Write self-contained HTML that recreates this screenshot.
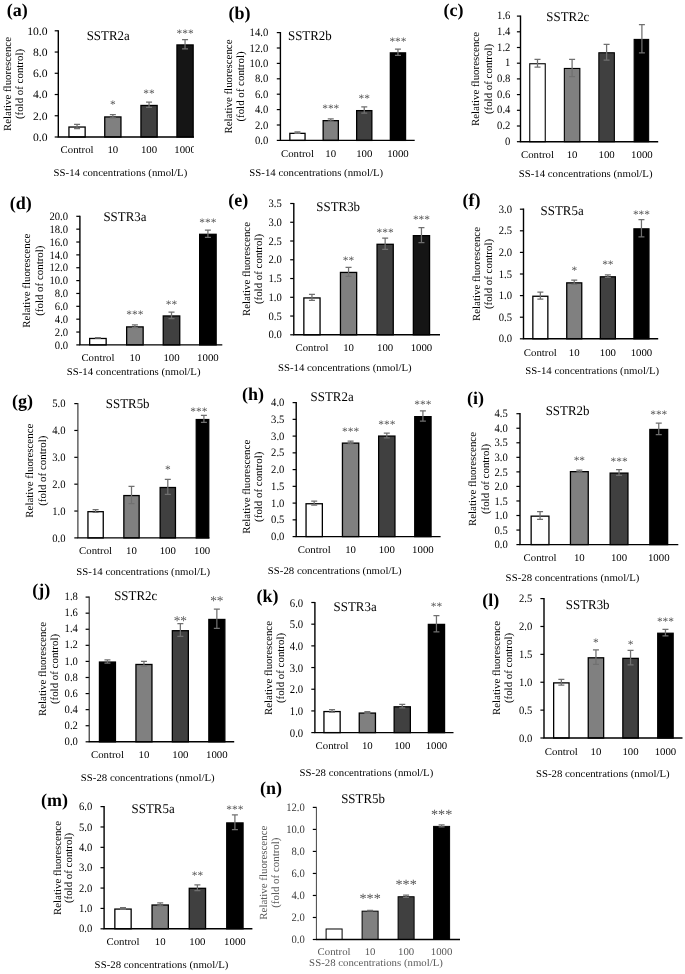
<!DOCTYPE html>
<html><head><meta charset="utf-8"><style>
html,body{margin:0;padding:0;background:#fff;}
svg{display:block;filter:blur(0.3px);}
text{font-family:"Liberation Serif",serif;text-rendering:geometricPrecision;}
</style></head><body>
<svg width="685" height="974" viewBox="0 0 685 974">
<rect width="685" height="974" fill="#fff"/>
<clipPath id="c0"><rect x="0" y="0" width="194" height="974"/></clipPath>
<g clip-path="url(#c0)"><text transform="translate(6.80,16.20) scale(1.0,1)" font-size="18" text-anchor="start" font-weight="bold" fill="#000">(a)</text><text transform="translate(86.70,39.60) scale(0.97,1)" font-size="13.3" text-anchor="start" fill="#000">SSTR2a</text><line x1="54.70" y1="137.00" x2="58.30" y2="137.00" stroke="#000" stroke-width="1.2"/><text transform="translate(47.50,140.93) scale(1.03,1)" font-size="11.3" text-anchor="end" fill="#000">0.0</text><line x1="54.70" y1="115.76" x2="58.30" y2="115.76" stroke="#000" stroke-width="1.2"/><text transform="translate(47.50,119.69) scale(1.03,1)" font-size="11.3" text-anchor="end" fill="#000">2.0</text><line x1="54.70" y1="94.52" x2="58.30" y2="94.52" stroke="#000" stroke-width="1.2"/><text transform="translate(47.50,98.45) scale(1.03,1)" font-size="11.3" text-anchor="end" fill="#000">4.0</text><line x1="54.70" y1="73.28" x2="58.30" y2="73.28" stroke="#000" stroke-width="1.2"/><text transform="translate(47.50,77.21) scale(1.03,1)" font-size="11.3" text-anchor="end" fill="#000">6.0</text><line x1="54.70" y1="52.04" x2="58.30" y2="52.04" stroke="#000" stroke-width="1.2"/><text transform="translate(47.50,55.97) scale(1.03,1)" font-size="11.3" text-anchor="end" fill="#000">8.0</text><line x1="54.70" y1="30.80" x2="58.30" y2="30.80" stroke="#000" stroke-width="1.2"/><text transform="translate(47.50,34.73) scale(1.03,1)" font-size="11.3" text-anchor="end" fill="#000">10.0</text><rect x="68.95" y="127.03" width="16.20" height="9.97" fill="#ffffff" stroke="#000" stroke-width="1.3"/><path d="M77.05 124.26V128.50M74.05 124.26H80.05M74.05 128.50H80.05" stroke="#707070" stroke-width="1.25" fill="none"/><text transform="translate(77.05,152.90) scale(1.06,1)" font-size="10.2" text-anchor="middle" fill="#000">Control</text><rect x="104.75" y="116.94" width="16.20" height="20.06" fill="#808080" stroke="#000" stroke-width="1.3"/><path d="M112.85 114.70V117.88M109.85 114.70H115.85M109.85 117.88H115.85" stroke="#707070" stroke-width="1.25" fill="none"/><text transform="translate(112.85,108.06) scale(1.0,1)" font-size="11.4" text-anchor="middle" fill="#555">*</text><text transform="translate(112.85,152.90) scale(1.06,1)" font-size="10.2" text-anchor="middle" fill="#000">10</text><rect x="140.95" y="105.47" width="16.20" height="31.53" fill="#404040" stroke="#000" stroke-width="1.3"/><path d="M149.05 102.17V107.48M146.05 102.17H152.05M146.05 107.48H152.05" stroke="#707070" stroke-width="1.25" fill="none"/><text transform="translate(149.05,96.76) scale(1.0,1)" font-size="11.4" text-anchor="middle" fill="#555">**</text><text transform="translate(149.05,152.90) scale(1.06,1)" font-size="10.2" text-anchor="middle" fill="#000">100</text><rect x="176.95" y="44.94" width="16.20" height="92.06" fill="#151515" stroke="#000" stroke-width="1.3"/><path d="M185.05 39.61V48.96M182.05 39.61H188.05M182.05 48.96H188.05" stroke="#707070" stroke-width="1.25" fill="none"/><text transform="translate(185.05,36.86) scale(1.0,1)" font-size="11.4" text-anchor="middle" fill="#555">***</text><text transform="translate(185.05,152.90) scale(1.06,1)" font-size="10.2" text-anchor="middle" fill="#000">1000</text><path d="M58.30 30.20V137.00H194.00" stroke="#000" stroke-width="1.4" fill="none"/><text transform="translate(120.40,175.50) scale(1.06,1)" font-size="10.2" text-anchor="middle" fill="#000">SS-14 concentrations (nmol/L)</text><text transform="translate(11.30,84.00) rotate(-90)" font-size="10.9" text-anchor="middle" fill="#000">Relative fluorescence</text><text transform="translate(22.60,84.00) rotate(-90)" font-size="10.9" text-anchor="middle" fill="#000">(fold of control)</text></g>
<g><text transform="translate(228.50,18.80) scale(1.0,1)" font-size="18" text-anchor="start" font-weight="bold" fill="#000">(b)</text><text transform="translate(288.00,40.30) scale(0.97,1)" font-size="13.3" text-anchor="start" fill="#000">SSTR2b</text><line x1="276.80" y1="140.40" x2="280.40" y2="140.40" stroke="#000" stroke-width="1.2"/><text transform="translate(268.20,144.03) scale(0.94,1)" font-size="11.3" text-anchor="end" fill="#000">0.0</text><line x1="276.80" y1="125.00" x2="280.40" y2="125.00" stroke="#000" stroke-width="1.2"/><text transform="translate(268.20,128.63) scale(0.94,1)" font-size="11.3" text-anchor="end" fill="#000">2.0</text><line x1="276.80" y1="109.60" x2="280.40" y2="109.60" stroke="#000" stroke-width="1.2"/><text transform="translate(268.20,113.23) scale(0.94,1)" font-size="11.3" text-anchor="end" fill="#000">4.0</text><line x1="276.80" y1="94.20" x2="280.40" y2="94.20" stroke="#000" stroke-width="1.2"/><text transform="translate(268.20,97.83) scale(0.94,1)" font-size="11.3" text-anchor="end" fill="#000">6.0</text><line x1="276.80" y1="78.80" x2="280.40" y2="78.80" stroke="#000" stroke-width="1.2"/><text transform="translate(268.20,82.43) scale(0.94,1)" font-size="11.3" text-anchor="end" fill="#000">8.0</text><line x1="276.80" y1="63.40" x2="280.40" y2="63.40" stroke="#000" stroke-width="1.2"/><text transform="translate(268.20,67.03) scale(0.94,1)" font-size="11.3" text-anchor="end" fill="#000">10.0</text><line x1="276.80" y1="48.00" x2="280.40" y2="48.00" stroke="#000" stroke-width="1.2"/><text transform="translate(268.20,51.63) scale(0.94,1)" font-size="11.3" text-anchor="end" fill="#000">12.0</text><line x1="276.80" y1="32.60" x2="280.40" y2="32.60" stroke="#000" stroke-width="1.2"/><text transform="translate(268.20,36.23) scale(0.94,1)" font-size="11.3" text-anchor="end" fill="#000">14.0</text><rect x="289.85" y="133.35" width="15.20" height="7.05" fill="#ffffff" stroke="#000" stroke-width="1.3"/><path d="M297.45 131.93V133.47M294.45 131.93H300.45M294.45 133.47H300.45" stroke="#707070" stroke-width="1.25" fill="none"/><text transform="translate(297.45,156.80) scale(1.06,1)" font-size="10.2" text-anchor="middle" fill="#000">Control</text><rect x="323.15" y="120.65" width="15.20" height="19.76" fill="#808080" stroke="#000" stroke-width="1.3"/><path d="M330.75 118.84V121.15M327.75 118.84H333.75M327.75 121.15H333.75" stroke="#707070" stroke-width="1.25" fill="none"/><text transform="translate(330.75,112.16) scale(1.0,1)" font-size="11.4" text-anchor="middle" fill="#555">***</text><text transform="translate(330.75,156.80) scale(1.06,1)" font-size="10.2" text-anchor="middle" fill="#000">10</text><rect x="356.65" y="110.64" width="15.20" height="29.77" fill="#404040" stroke="#000" stroke-width="1.3"/><path d="M364.25 106.91V113.06M361.25 106.91H367.25M361.25 113.06H367.25" stroke="#707070" stroke-width="1.25" fill="none"/><text transform="translate(364.25,101.76) scale(1.0,1)" font-size="11.4" text-anchor="middle" fill="#555">**</text><text transform="translate(364.25,156.80) scale(1.06,1)" font-size="10.2" text-anchor="middle" fill="#000">100</text><rect x="390.35" y="52.88" width="15.20" height="87.52" fill="#000" stroke="#000" stroke-width="1.3"/><path d="M397.95 49.16V55.31M394.95 49.16H400.95M394.95 55.31H400.95" stroke="#707070" stroke-width="1.25" fill="none"/><text transform="translate(397.95,44.66) scale(1.0,1)" font-size="11.4" text-anchor="middle" fill="#555">***</text><text transform="translate(397.95,156.80) scale(1.06,1)" font-size="10.2" text-anchor="middle" fill="#000">1000</text><path d="M280.40 32.00V140.40H414.70" stroke="#000" stroke-width="1.4" fill="none"/><text transform="translate(316.20,176.30) scale(1.06,1)" font-size="10.2" text-anchor="middle" fill="#000">SS-14 concentrations (nmol/L)</text><text transform="translate(232.00,86.50) rotate(-90)" font-size="10.9" text-anchor="middle" fill="#000">Relative fluorescence</text><text transform="translate(243.50,86.50) rotate(-90)" font-size="10.9" text-anchor="middle" fill="#000">(fold of control)</text></g>
<g><text transform="translate(443.50,16.20) scale(1.0,1)" font-size="18" text-anchor="start" font-weight="bold" fill="#000">(c)</text><text transform="translate(546.30,20.80) scale(0.97,1)" font-size="13.3" text-anchor="start" fill="#000">SSTR2c</text><line x1="516.90" y1="141.70" x2="520.50" y2="141.70" stroke="#000" stroke-width="1.2"/><text transform="translate(510.40,144.73) scale(0.94,1)" font-size="11.3" text-anchor="end" fill="#000">0</text><line x1="516.90" y1="126.00" x2="520.50" y2="126.00" stroke="#000" stroke-width="1.2"/><text transform="translate(510.40,129.03) scale(0.94,1)" font-size="11.3" text-anchor="end" fill="#000">0.2</text><line x1="516.90" y1="110.30" x2="520.50" y2="110.30" stroke="#000" stroke-width="1.2"/><text transform="translate(510.40,113.33) scale(0.94,1)" font-size="11.3" text-anchor="end" fill="#000">0.4</text><line x1="516.90" y1="94.60" x2="520.50" y2="94.60" stroke="#000" stroke-width="1.2"/><text transform="translate(510.40,97.63) scale(0.94,1)" font-size="11.3" text-anchor="end" fill="#000">0.6</text><line x1="516.90" y1="78.90" x2="520.50" y2="78.90" stroke="#000" stroke-width="1.2"/><text transform="translate(510.40,81.93) scale(0.94,1)" font-size="11.3" text-anchor="end" fill="#000">0.8</text><line x1="516.90" y1="63.20" x2="520.50" y2="63.20" stroke="#000" stroke-width="1.2"/><text transform="translate(510.40,66.23) scale(0.94,1)" font-size="11.3" text-anchor="end" fill="#000">1</text><line x1="516.90" y1="47.50" x2="520.50" y2="47.50" stroke="#000" stroke-width="1.2"/><text transform="translate(510.40,50.53) scale(0.94,1)" font-size="11.3" text-anchor="end" fill="#000">1.2</text><line x1="516.90" y1="31.80" x2="520.50" y2="31.80" stroke="#000" stroke-width="1.2"/><text transform="translate(510.40,34.83) scale(0.94,1)" font-size="11.3" text-anchor="end" fill="#000">1.4</text><line x1="516.90" y1="16.10" x2="520.50" y2="16.10" stroke="#000" stroke-width="1.2"/><text transform="translate(510.40,19.13) scale(0.94,1)" font-size="11.3" text-anchor="end" fill="#000">1.6</text><rect x="529.75" y="63.75" width="15.50" height="77.95" fill="#ffffff" stroke="#000" stroke-width="1.1"/><path d="M537.50 59.28V67.12M534.50 59.28H540.50M534.50 67.12H540.50" stroke="#707070" stroke-width="1.25" fill="none"/><text transform="translate(537.50,157.80) scale(1.06,1)" font-size="10.2" text-anchor="middle" fill="#000">Control</text><rect x="564.35" y="68.46" width="15.50" height="73.24" fill="#808080" stroke="#000" stroke-width="1.1"/><path d="M572.10 59.28V76.55M569.10 59.28H575.10M569.10 76.55H575.10" stroke="#707070" stroke-width="1.25" fill="none"/><text transform="translate(572.10,157.80) scale(1.06,1)" font-size="10.2" text-anchor="middle" fill="#000">10</text><rect x="598.85" y="52.76" width="15.50" height="88.94" fill="#404040" stroke="#000" stroke-width="1.1"/><path d="M606.60 44.36V60.06M603.60 44.36H609.60M603.60 60.06H609.60" stroke="#707070" stroke-width="1.25" fill="none"/><text transform="translate(606.60,157.80) scale(1.06,1)" font-size="10.2" text-anchor="middle" fill="#000">100</text><rect x="634.15" y="39.42" width="14.50" height="102.28" fill="#000" stroke="#000" stroke-width="1.1"/><path d="M641.90 24.74V52.99M638.90 24.74H644.90M638.90 52.99H644.90" stroke="#707070" stroke-width="1.25" fill="none"/><text transform="translate(641.90,157.80) scale(1.06,1)" font-size="10.2" text-anchor="middle" fill="#000">1000</text><path d="M520.50 15.50V141.70H658.20" stroke="#000" stroke-width="1.4" fill="none"/><text transform="translate(585.60,177.30) scale(1.06,1)" font-size="10.2" text-anchor="middle" fill="#000">SS-14 concentrations (nmol/L)</text><text transform="translate(479.30,79.00) rotate(-90)" font-size="10.9" text-anchor="middle" fill="#000">Relative fluorescence</text><text transform="translate(491.50,79.00) rotate(-90)" font-size="10.9" text-anchor="middle" fill="#000">(fold of control)</text></g>
<g><text transform="translate(9.80,208.60) scale(1.0,1)" font-size="18" text-anchor="start" font-weight="bold" fill="#000">(d)</text><text transform="translate(103.40,221.30) scale(0.97,1)" font-size="13.3" text-anchor="start" fill="#000">SSTR3a</text><line x1="76.30" y1="344.90" x2="79.90" y2="344.90" stroke="#000" stroke-width="1.2"/><text transform="translate(68.10,348.53) scale(0.94,1)" font-size="11.3" text-anchor="end" fill="#000">0.0</text><line x1="76.30" y1="332.04" x2="79.90" y2="332.04" stroke="#000" stroke-width="1.2"/><text transform="translate(68.10,335.67) scale(0.94,1)" font-size="11.3" text-anchor="end" fill="#000">2.0</text><line x1="76.30" y1="319.18" x2="79.90" y2="319.18" stroke="#000" stroke-width="1.2"/><text transform="translate(68.10,322.81) scale(0.94,1)" font-size="11.3" text-anchor="end" fill="#000">4.0</text><line x1="76.30" y1="306.32" x2="79.90" y2="306.32" stroke="#000" stroke-width="1.2"/><text transform="translate(68.10,309.95) scale(0.94,1)" font-size="11.3" text-anchor="end" fill="#000">6.0</text><line x1="76.30" y1="293.46" x2="79.90" y2="293.46" stroke="#000" stroke-width="1.2"/><text transform="translate(68.10,297.09) scale(0.94,1)" font-size="11.3" text-anchor="end" fill="#000">8.0</text><line x1="76.30" y1="280.60" x2="79.90" y2="280.60" stroke="#000" stroke-width="1.2"/><text transform="translate(68.10,284.23) scale(0.94,1)" font-size="11.3" text-anchor="end" fill="#000">10.0</text><line x1="76.30" y1="267.74" x2="79.90" y2="267.74" stroke="#000" stroke-width="1.2"/><text transform="translate(68.10,271.37) scale(0.94,1)" font-size="11.3" text-anchor="end" fill="#000">12.0</text><line x1="76.30" y1="254.88" x2="79.90" y2="254.88" stroke="#000" stroke-width="1.2"/><text transform="translate(68.10,258.51) scale(0.94,1)" font-size="11.3" text-anchor="end" fill="#000">14.0</text><line x1="76.30" y1="242.02" x2="79.90" y2="242.02" stroke="#000" stroke-width="1.2"/><text transform="translate(68.10,245.65) scale(0.94,1)" font-size="11.3" text-anchor="end" fill="#000">16.0</text><line x1="76.30" y1="229.16" x2="79.90" y2="229.16" stroke="#000" stroke-width="1.2"/><text transform="translate(68.10,232.79) scale(0.94,1)" font-size="11.3" text-anchor="end" fill="#000">18.0</text><line x1="76.30" y1="216.30" x2="79.90" y2="216.30" stroke="#000" stroke-width="1.2"/><text transform="translate(68.10,219.93) scale(0.94,1)" font-size="11.3" text-anchor="end" fill="#000">20.0</text><rect x="89.65" y="338.48" width="16.50" height="6.42" fill="#ffffff" stroke="#000" stroke-width="1.3"/><path d="M97.90 337.51V338.15M94.90 337.51H100.90M94.90 338.15H100.90" stroke="#707070" stroke-width="1.25" fill="none"/><text transform="translate(97.90,361.30) scale(1.06,1)" font-size="10.2" text-anchor="middle" fill="#000">Control</text><rect x="126.65" y="326.90" width="16.50" height="18.00" fill="#808080" stroke="#000" stroke-width="1.3"/><path d="M134.90 324.97V327.54M131.90 324.97H137.90M131.90 327.54H137.90" stroke="#707070" stroke-width="1.25" fill="none"/><text transform="translate(134.90,317.96) scale(1.0,1)" font-size="11.4" text-anchor="middle" fill="#555">***</text><text transform="translate(134.90,361.30) scale(1.06,1)" font-size="10.2" text-anchor="middle" fill="#000">10</text><rect x="163.25" y="315.97" width="16.50" height="28.93" fill="#404040" stroke="#000" stroke-width="1.3"/><path d="M171.50 312.11V318.54M168.50 312.11H174.50M168.50 318.54H174.50" stroke="#707070" stroke-width="1.25" fill="none"/><text transform="translate(171.50,307.96) scale(1.0,1)" font-size="11.4" text-anchor="middle" fill="#555">**</text><text transform="translate(171.50,361.30) scale(1.06,1)" font-size="10.2" text-anchor="middle" fill="#000">100</text><rect x="199.65" y="234.31" width="16.50" height="110.59" fill="#000" stroke="#000" stroke-width="1.3"/><path d="M207.90 230.00V237.33M204.90 230.00H210.90M204.90 237.33H210.90" stroke="#707070" stroke-width="1.25" fill="none"/><text transform="translate(207.90,226.36) scale(1.0,1)" font-size="11.4" text-anchor="middle" fill="#555">***</text><text transform="translate(207.90,361.30) scale(1.06,1)" font-size="10.2" text-anchor="middle" fill="#000">1000</text><path d="M79.90 215.70V344.90H222.30" stroke="#000" stroke-width="1.4" fill="none"/><text transform="translate(133.60,375.40) scale(1.06,1)" font-size="10.2" text-anchor="middle" fill="#000">SS-14 concentrations (nmol/L)</text><text transform="translate(30.40,280.70) rotate(-90)" font-size="10.9" text-anchor="middle" fill="#000">Relative fluorescence</text><text transform="translate(42.80,280.70) rotate(-90)" font-size="10.9" text-anchor="middle" fill="#000">(fold of control)</text></g>
<g><text transform="translate(228.30,205.60) scale(1.0,1)" font-size="18" text-anchor="start" font-weight="bold" fill="#000">(e)</text><text transform="translate(316.30,210.90) scale(0.97,1)" font-size="13.3" text-anchor="start" fill="#000">SSTR3b</text><line x1="290.20" y1="334.80" x2="293.80" y2="334.80" stroke="#000" stroke-width="1.2"/><text transform="translate(281.80,338.43) scale(0.94,1)" font-size="11.3" text-anchor="end" fill="#000">0.0</text><line x1="290.20" y1="316.04" x2="293.80" y2="316.04" stroke="#000" stroke-width="1.2"/><text transform="translate(281.80,319.67) scale(0.94,1)" font-size="11.3" text-anchor="end" fill="#000">0.5</text><line x1="290.20" y1="297.29" x2="293.80" y2="297.29" stroke="#000" stroke-width="1.2"/><text transform="translate(281.80,300.91) scale(0.94,1)" font-size="11.3" text-anchor="end" fill="#000">1.0</text><line x1="290.20" y1="278.53" x2="293.80" y2="278.53" stroke="#000" stroke-width="1.2"/><text transform="translate(281.80,282.16) scale(0.94,1)" font-size="11.3" text-anchor="end" fill="#000">1.5</text><line x1="290.20" y1="259.77" x2="293.80" y2="259.77" stroke="#000" stroke-width="1.2"/><text transform="translate(281.80,263.40) scale(0.94,1)" font-size="11.3" text-anchor="end" fill="#000">2.0</text><line x1="290.20" y1="241.01" x2="293.80" y2="241.01" stroke="#000" stroke-width="1.2"/><text transform="translate(281.80,244.64) scale(0.94,1)" font-size="11.3" text-anchor="end" fill="#000">2.5</text><line x1="290.20" y1="222.26" x2="293.80" y2="222.26" stroke="#000" stroke-width="1.2"/><text transform="translate(281.80,225.89) scale(0.94,1)" font-size="11.3" text-anchor="end" fill="#000">3.0</text><line x1="290.20" y1="203.50" x2="293.80" y2="203.50" stroke="#000" stroke-width="1.2"/><text transform="translate(281.80,207.13) scale(0.94,1)" font-size="11.3" text-anchor="end" fill="#000">3.5</text><rect x="303.85" y="297.94" width="16.20" height="36.86" fill="#ffffff" stroke="#000" stroke-width="1.3"/><path d="M311.95 294.28V300.29M308.95 294.28H314.95M308.95 300.29H314.95" stroke="#707070" stroke-width="1.25" fill="none"/><text transform="translate(311.95,351.30) scale(1.06,1)" font-size="10.2" text-anchor="middle" fill="#000">Control</text><rect x="340.45" y="272.43" width="16.20" height="62.37" fill="#808080" stroke="#000" stroke-width="1.3"/><path d="M348.55 267.27V276.28M345.55 267.27H351.55M345.55 276.28H351.55" stroke="#707070" stroke-width="1.25" fill="none"/><text transform="translate(348.55,264.26) scale(1.0,1)" font-size="11.4" text-anchor="middle" fill="#555">**</text><text transform="translate(348.55,351.30) scale(1.06,1)" font-size="10.2" text-anchor="middle" fill="#000">10</text><rect x="377.05" y="244.29" width="16.20" height="90.51" fill="#404040" stroke="#000" stroke-width="1.3"/><path d="M385.15 238.01V249.27M382.15 238.01H388.15M382.15 249.27H388.15" stroke="#707070" stroke-width="1.25" fill="none"/><text transform="translate(385.15,236.36) scale(1.0,1)" font-size="11.4" text-anchor="middle" fill="#555">***</text><text transform="translate(385.15,351.30) scale(1.06,1)" font-size="10.2" text-anchor="middle" fill="#000">100</text><rect x="413.35" y="235.66" width="16.20" height="99.14" fill="#151515" stroke="#000" stroke-width="1.3"/><path d="M421.45 227.51V242.51M418.45 227.51H424.45M418.45 242.51H424.45" stroke="#707070" stroke-width="1.25" fill="none"/><text transform="translate(421.45,223.36) scale(1.0,1)" font-size="11.4" text-anchor="middle" fill="#555">***</text><text transform="translate(421.45,351.30) scale(1.06,1)" font-size="10.2" text-anchor="middle" fill="#000">1000</text><path d="M293.80 202.90V334.80H440.00" stroke="#000" stroke-width="1.4" fill="none"/><text transform="translate(344.80,370.70) scale(1.06,1)" font-size="10.2" text-anchor="middle" fill="#000">SS-14 concentrations (nmol/L)</text><text transform="translate(250.30,269.00) rotate(-90)" font-size="10.9" text-anchor="middle" fill="#000">Relative fluorescence</text><text transform="translate(262.10,269.00) rotate(-90)" font-size="10.9" text-anchor="middle" fill="#000">(fold of control)</text></g>
<g><text transform="translate(462.60,205.60) scale(1.0,1)" font-size="18" text-anchor="start" font-weight="bold" fill="#000">(f)</text><text transform="translate(540.60,214.60) scale(0.97,1)" font-size="13.3" text-anchor="start" fill="#000">SSTR5a</text><line x1="519.90" y1="338.80" x2="523.50" y2="338.80" stroke="#000" stroke-width="1.2"/><text transform="translate(512.00,342.43) scale(0.94,1)" font-size="11.3" text-anchor="end" fill="#000">0.0</text><line x1="519.90" y1="317.20" x2="523.50" y2="317.20" stroke="#000" stroke-width="1.2"/><text transform="translate(512.00,320.83) scale(0.94,1)" font-size="11.3" text-anchor="end" fill="#000">0.5</text><line x1="519.90" y1="295.60" x2="523.50" y2="295.60" stroke="#000" stroke-width="1.2"/><text transform="translate(512.00,299.23) scale(0.94,1)" font-size="11.3" text-anchor="end" fill="#000">1.0</text><line x1="519.90" y1="274.00" x2="523.50" y2="274.00" stroke="#000" stroke-width="1.2"/><text transform="translate(512.00,277.63) scale(0.94,1)" font-size="11.3" text-anchor="end" fill="#000">1.5</text><line x1="519.90" y1="252.40" x2="523.50" y2="252.40" stroke="#000" stroke-width="1.2"/><text transform="translate(512.00,256.03) scale(0.94,1)" font-size="11.3" text-anchor="end" fill="#000">2.0</text><line x1="519.90" y1="230.80" x2="523.50" y2="230.80" stroke="#000" stroke-width="1.2"/><text transform="translate(512.00,234.43) scale(0.94,1)" font-size="11.3" text-anchor="end" fill="#000">2.5</text><line x1="519.90" y1="209.20" x2="523.50" y2="209.20" stroke="#000" stroke-width="1.2"/><text transform="translate(512.00,212.83) scale(0.94,1)" font-size="11.3" text-anchor="end" fill="#000">3.0</text><rect x="532.85" y="296.25" width="15.00" height="42.55" fill="#ffffff" stroke="#000" stroke-width="1.3"/><path d="M540.35 292.14V299.06M537.35 292.14H543.35M537.35 299.06H543.35" stroke="#707070" stroke-width="1.25" fill="none"/><text transform="translate(540.35,355.60) scale(1.06,1)" font-size="10.2" text-anchor="middle" fill="#000">Control</text><rect x="566.75" y="282.86" width="15.00" height="55.94" fill="#808080" stroke="#000" stroke-width="1.3"/><path d="M574.25 280.05V284.37M571.25 280.05H577.25M571.25 284.37H577.25" stroke="#707070" stroke-width="1.25" fill="none"/><text transform="translate(574.25,274.36) scale(1.0,1)" font-size="11.4" text-anchor="middle" fill="#555">*</text><text transform="translate(574.25,355.60) scale(1.06,1)" font-size="10.2" text-anchor="middle" fill="#000">10</text><rect x="600.35" y="276.81" width="15.00" height="61.99" fill="#404040" stroke="#000" stroke-width="1.3"/><path d="M607.85 274.86V277.46M604.85 274.86H610.85M604.85 277.46H610.85" stroke="#707070" stroke-width="1.25" fill="none"/><text transform="translate(607.85,267.66) scale(1.0,1)" font-size="11.4" text-anchor="middle" fill="#555">**</text><text transform="translate(607.85,355.60) scale(1.06,1)" font-size="10.2" text-anchor="middle" fill="#000">100</text><rect x="633.95" y="228.86" width="15.00" height="109.94" fill="#000" stroke="#000" stroke-width="1.3"/><path d="M641.45 219.57V236.85M638.45 219.57H644.45M638.45 236.85H644.45" stroke="#707070" stroke-width="1.25" fill="none"/><text transform="translate(641.45,217.96) scale(1.0,1)" font-size="11.4" text-anchor="middle" fill="#555">***</text><text transform="translate(641.45,355.60) scale(1.06,1)" font-size="10.2" text-anchor="middle" fill="#000">1000</text><path d="M523.50 208.60V338.80H658.20" stroke="#000" stroke-width="1.4" fill="none"/><text transform="translate(592.20,374.10) scale(1.06,1)" font-size="10.2" text-anchor="middle" fill="#000">SS-14 concentrations (nmol/L)</text><text transform="translate(480.30,274.00) rotate(-90)" font-size="10.9" text-anchor="middle" fill="#000">Relative fluorescence</text><text transform="translate(492.10,274.00) rotate(-90)" font-size="10.9" text-anchor="middle" fill="#000">(fold of control)</text></g>
<g><text transform="translate(12.00,407.00) scale(1.0,1)" font-size="18" text-anchor="start" font-weight="bold" fill="#000">(g)</text><text transform="translate(105.80,407.60) scale(0.97,1)" font-size="13.3" text-anchor="start" fill="#000">SSTR5b</text><line x1="74.30" y1="537.90" x2="77.90" y2="537.90" stroke="#000" stroke-width="1.2"/><text transform="translate(65.50,541.53) scale(0.94,1)" font-size="11.3" text-anchor="end" fill="#000">0.0</text><line x1="74.30" y1="511.04" x2="77.90" y2="511.04" stroke="#000" stroke-width="1.2"/><text transform="translate(65.50,514.67) scale(0.94,1)" font-size="11.3" text-anchor="end" fill="#000">1.0</text><line x1="74.30" y1="484.18" x2="77.90" y2="484.18" stroke="#000" stroke-width="1.2"/><text transform="translate(65.50,487.81) scale(0.94,1)" font-size="11.3" text-anchor="end" fill="#000">2.0</text><line x1="74.30" y1="457.32" x2="77.90" y2="457.32" stroke="#000" stroke-width="1.2"/><text transform="translate(65.50,460.95) scale(0.94,1)" font-size="11.3" text-anchor="end" fill="#000">3.0</text><line x1="74.30" y1="430.46" x2="77.90" y2="430.46" stroke="#000" stroke-width="1.2"/><text transform="translate(65.50,434.09) scale(0.94,1)" font-size="11.3" text-anchor="end" fill="#000">4.0</text><line x1="74.30" y1="403.60" x2="77.90" y2="403.60" stroke="#000" stroke-width="1.2"/><text transform="translate(65.50,407.23) scale(0.94,1)" font-size="11.3" text-anchor="end" fill="#000">5.0</text><rect x="87.95" y="511.69" width="15.30" height="26.21" fill="#ffffff" stroke="#000" stroke-width="1.3"/><path d="M95.60 509.70V512.38M92.60 509.70H98.60M92.60 512.38H98.60" stroke="#707070" stroke-width="1.25" fill="none"/><text transform="translate(95.60,554.00) scale(1.06,1)" font-size="10.2" text-anchor="middle" fill="#000">Control</text><rect x="123.85" y="495.57" width="15.30" height="42.33" fill="#808080" stroke="#000" stroke-width="1.3"/><path d="M131.50 486.33V503.52M128.50 486.33H134.50M128.50 503.52H134.50" stroke="#707070" stroke-width="1.25" fill="none"/><text transform="translate(131.50,554.00) scale(1.06,1)" font-size="10.2" text-anchor="middle" fill="#000">10</text><rect x="160.15" y="487.52" width="15.30" height="50.38" fill="#404040" stroke="#000" stroke-width="1.3"/><path d="M167.80 479.35V494.39M164.80 479.35H170.80M164.80 494.39H170.80" stroke="#707070" stroke-width="1.25" fill="none"/><text transform="translate(167.80,473.36) scale(1.0,1)" font-size="11.4" text-anchor="middle" fill="#555">*</text><text transform="translate(167.80,554.00) scale(1.06,1)" font-size="10.2" text-anchor="middle" fill="#000">100</text><rect x="196.25" y="419.56" width="12.50" height="118.34" fill="#000" stroke="#000" stroke-width="1.3"/><path d="M203.90 415.42V422.40M200.90 415.42H206.90M200.90 422.40H206.90" stroke="#707070" stroke-width="1.25" fill="none"/><text transform="translate(198.80,414.96) scale(1.0,1)" font-size="11.4" text-anchor="middle" fill="#555">***</text><text transform="translate(202.10,554.00) scale(1.06,1)" font-size="10.2" text-anchor="middle" fill="#000">100</text><path d="M77.90 403.10V537.90" stroke="#2a2a2a" stroke-width="1.1" fill="none"/><path d="M77.40 537.90H209.40" stroke="#000" stroke-width="1.4" fill="none"/><text transform="translate(143.20,575.30) scale(1.06,1)" font-size="10.2" text-anchor="middle" fill="#000">SS-14 concentrations (nmol/L)</text><text transform="translate(33.00,470.70) rotate(-90)" font-size="10.9" text-anchor="middle" fill="#000">Relative fluorescence</text><text transform="translate(45.50,470.70) rotate(-90)" font-size="10.9" text-anchor="middle" fill="#000">(fold of control)</text></g>
<g><text transform="translate(242.00,400.00) scale(1.0,1)" font-size="18" text-anchor="start" font-weight="bold" fill="#000">(h)</text><text transform="translate(310.60,400.90) scale(0.97,1)" font-size="13.3" text-anchor="start" fill="#000">SSTR2a</text><line x1="292.60" y1="536.60" x2="296.20" y2="536.60" stroke="#000" stroke-width="1.2"/><text transform="translate(284.40,540.23) scale(0.94,1)" font-size="11.3" text-anchor="end" fill="#000">0.0</text><line x1="292.60" y1="519.85" x2="296.20" y2="519.85" stroke="#000" stroke-width="1.2"/><text transform="translate(284.40,523.48) scale(0.94,1)" font-size="11.3" text-anchor="end" fill="#000">0.5</text><line x1="292.60" y1="503.10" x2="296.20" y2="503.10" stroke="#000" stroke-width="1.2"/><text transform="translate(284.40,506.73) scale(0.94,1)" font-size="11.3" text-anchor="end" fill="#000">1.0</text><line x1="292.60" y1="486.35" x2="296.20" y2="486.35" stroke="#000" stroke-width="1.2"/><text transform="translate(284.40,489.98) scale(0.94,1)" font-size="11.3" text-anchor="end" fill="#000">1.5</text><line x1="292.60" y1="469.60" x2="296.20" y2="469.60" stroke="#000" stroke-width="1.2"/><text transform="translate(284.40,473.23) scale(0.94,1)" font-size="11.3" text-anchor="end" fill="#000">2.0</text><line x1="292.60" y1="452.85" x2="296.20" y2="452.85" stroke="#000" stroke-width="1.2"/><text transform="translate(284.40,456.48) scale(0.94,1)" font-size="11.3" text-anchor="end" fill="#000">2.5</text><line x1="292.60" y1="436.10" x2="296.20" y2="436.10" stroke="#000" stroke-width="1.2"/><text transform="translate(284.40,439.73) scale(0.94,1)" font-size="11.3" text-anchor="end" fill="#000">3.0</text><line x1="292.60" y1="419.35" x2="296.20" y2="419.35" stroke="#000" stroke-width="1.2"/><text transform="translate(284.40,422.98) scale(0.94,1)" font-size="11.3" text-anchor="end" fill="#000">3.5</text><line x1="292.60" y1="402.60" x2="296.20" y2="402.60" stroke="#000" stroke-width="1.2"/><text transform="translate(284.40,406.23) scale(0.94,1)" font-size="11.3" text-anchor="end" fill="#000">4.0</text><rect x="306.05" y="503.75" width="16.30" height="32.85" fill="#ffffff" stroke="#000" stroke-width="1.3"/><path d="M314.20 501.09V505.11M311.20 501.09H317.20M311.20 505.11H317.20" stroke="#707070" stroke-width="1.25" fill="none"/><text transform="translate(314.20,553.00) scale(1.06,1)" font-size="10.2" text-anchor="middle" fill="#000">Control</text><rect x="342.45" y="443.12" width="16.30" height="93.48" fill="#808080" stroke="#000" stroke-width="1.3"/><path d="M350.60 441.12V443.81M347.60 441.12H353.60M347.60 443.81H353.60" stroke="#707070" stroke-width="1.25" fill="none"/><text transform="translate(350.60,434.76) scale(1.0,1)" font-size="11.4" text-anchor="middle" fill="#555">***</text><text transform="translate(350.60,553.00) scale(1.06,1)" font-size="10.2" text-anchor="middle" fill="#000">10</text><rect x="378.65" y="436.08" width="16.30" height="100.52" fill="#404040" stroke="#000" stroke-width="1.3"/><path d="M386.80 433.09V437.78M383.80 433.09H389.80M383.80 437.78H389.80" stroke="#707070" stroke-width="1.25" fill="none"/><text transform="translate(386.80,428.06) scale(1.0,1)" font-size="11.4" text-anchor="middle" fill="#555">***</text><text transform="translate(386.80,553.00) scale(1.06,1)" font-size="10.2" text-anchor="middle" fill="#000">100</text><rect x="414.75" y="416.65" width="16.30" height="119.95" fill="#000" stroke="#000" stroke-width="1.3"/><path d="M422.90 410.98V421.03M419.90 410.98H425.90M419.90 421.03H425.90" stroke="#707070" stroke-width="1.25" fill="none"/><text transform="translate(422.90,407.96) scale(1.0,1)" font-size="11.4" text-anchor="middle" fill="#555">***</text><text transform="translate(422.90,553.00) scale(1.06,1)" font-size="10.2" text-anchor="middle" fill="#000">1000</text><path d="M296.20 402.00V536.60H440.60" stroke="#000" stroke-width="1.4" fill="none"/><text transform="translate(334.70,574.00) scale(1.06,1)" font-size="10.2" text-anchor="middle" fill="#000">SS-28 concentrations (nmol/L)</text><text transform="translate(250.30,486.80) rotate(-90)" font-size="10.9" text-anchor="middle" fill="#000">Relative fluorescence</text><text transform="translate(262.10,486.80) rotate(-90)" font-size="10.9" text-anchor="middle" fill="#000">(fold of control)</text></g>
<g><text transform="translate(467.00,403.60) scale(1.0,1)" font-size="18" text-anchor="start" font-weight="bold" fill="#000">(i)</text><text transform="translate(545.70,415.30) scale(0.97,1)" font-size="13.3" text-anchor="start" fill="#000">SSTR2b</text><line x1="516.40" y1="544.60" x2="520.00" y2="544.60" stroke="#000" stroke-width="1.2"/><text transform="translate(507.70,548.23) scale(0.94,1)" font-size="11.3" text-anchor="end" fill="#000">0.0</text><line x1="516.40" y1="530.06" x2="520.00" y2="530.06" stroke="#000" stroke-width="1.2"/><text transform="translate(507.70,533.68) scale(0.94,1)" font-size="11.3" text-anchor="end" fill="#000">0.5</text><line x1="516.40" y1="515.51" x2="520.00" y2="515.51" stroke="#000" stroke-width="1.2"/><text transform="translate(507.70,519.14) scale(0.94,1)" font-size="11.3" text-anchor="end" fill="#000">1.0</text><line x1="516.40" y1="500.97" x2="520.00" y2="500.97" stroke="#000" stroke-width="1.2"/><text transform="translate(507.70,504.60) scale(0.94,1)" font-size="11.3" text-anchor="end" fill="#000">1.5</text><line x1="516.40" y1="486.42" x2="520.00" y2="486.42" stroke="#000" stroke-width="1.2"/><text transform="translate(507.70,490.05) scale(0.94,1)" font-size="11.3" text-anchor="end" fill="#000">2.0</text><line x1="516.40" y1="471.88" x2="520.00" y2="471.88" stroke="#000" stroke-width="1.2"/><text transform="translate(507.70,475.51) scale(0.94,1)" font-size="11.3" text-anchor="end" fill="#000">2.5</text><line x1="516.40" y1="457.33" x2="520.00" y2="457.33" stroke="#000" stroke-width="1.2"/><text transform="translate(507.70,460.96) scale(0.94,1)" font-size="11.3" text-anchor="end" fill="#000">3.0</text><line x1="516.40" y1="442.79" x2="520.00" y2="442.79" stroke="#000" stroke-width="1.2"/><text transform="translate(507.70,446.42) scale(0.94,1)" font-size="11.3" text-anchor="end" fill="#000">3.5</text><line x1="516.40" y1="428.24" x2="520.00" y2="428.24" stroke="#000" stroke-width="1.2"/><text transform="translate(507.70,431.87) scale(0.94,1)" font-size="11.3" text-anchor="end" fill="#000">4.0</text><line x1="516.40" y1="413.70" x2="520.00" y2="413.70" stroke="#000" stroke-width="1.2"/><text transform="translate(507.70,417.33) scale(0.94,1)" font-size="11.3" text-anchor="end" fill="#000">4.5</text><rect x="531.15" y="516.16" width="17.80" height="28.44" fill="#ffffff" stroke="#000" stroke-width="1.3"/><path d="M540.05 511.73V519.29M537.05 511.73H543.05M537.05 519.29H543.05" stroke="#707070" stroke-width="1.25" fill="none"/><text transform="translate(540.05,561.40) scale(1.06,1)" font-size="10.2" text-anchor="middle" fill="#000">Control</text><rect x="570.45" y="471.66" width="17.80" height="72.94" fill="#808080" stroke="#000" stroke-width="1.3"/><path d="M579.35 470.13V471.88M576.35 470.13H582.35M576.35 471.88H582.35" stroke="#707070" stroke-width="1.25" fill="none"/><text transform="translate(579.35,463.66) scale(1.0,1)" font-size="11.4" text-anchor="middle" fill="#555">**</text><text transform="translate(579.35,561.40) scale(1.06,1)" font-size="10.2" text-anchor="middle" fill="#000">10</text><rect x="610.15" y="473.11" width="17.80" height="71.49" fill="#404040" stroke="#000" stroke-width="1.3"/><path d="M619.05 469.55V475.37M616.05 469.55H622.05M616.05 475.37H622.05" stroke="#707070" stroke-width="1.25" fill="none"/><text transform="translate(619.05,465.36) scale(1.0,1)" font-size="11.4" text-anchor="middle" fill="#555">***</text><text transform="translate(619.05,561.40) scale(1.06,1)" font-size="10.2" text-anchor="middle" fill="#000">100</text><rect x="649.85" y="429.48" width="17.80" height="115.12" fill="#000" stroke="#000" stroke-width="1.3"/><path d="M658.75 423.01V434.64M655.75 423.01H661.75M655.75 434.64H661.75" stroke="#707070" stroke-width="1.25" fill="none"/><text transform="translate(658.75,418.36) scale(1.0,1)" font-size="11.4" text-anchor="middle" fill="#555">***</text><text transform="translate(658.75,561.40) scale(1.06,1)" font-size="10.2" text-anchor="middle" fill="#000">1000</text><path d="M520.00 413.10V544.60H678.30" stroke="#000" stroke-width="1.4" fill="none"/><text transform="translate(572.50,580.80) scale(1.06,1)" font-size="10.2" text-anchor="middle" fill="#000">SS-28 concentrations (nmol/L)</text><text transform="translate(476.00,479.00) rotate(-90)" font-size="10.9" text-anchor="middle" fill="#000">Relative fluorescence</text><text transform="translate(488.70,479.00) rotate(-90)" font-size="10.9" text-anchor="middle" fill="#000">(fold of control)</text></g>
<g><text transform="translate(32.20,596.00) scale(1.0,1)" font-size="18" text-anchor="start" font-weight="bold" fill="#000">(j)</text><text transform="translate(114.20,599.80) scale(0.97,1)" font-size="13.3" text-anchor="start" fill="#000">SSTR2c</text><line x1="85.60" y1="741.80" x2="89.20" y2="741.80" stroke="#000" stroke-width="1.2"/><text transform="translate(77.90,744.93) scale(0.94,1)" font-size="11.3" text-anchor="end" fill="#000">0.0</text><line x1="85.60" y1="725.72" x2="89.20" y2="725.72" stroke="#000" stroke-width="1.2"/><text transform="translate(77.90,728.85) scale(0.94,1)" font-size="11.3" text-anchor="end" fill="#000">0.2</text><line x1="85.60" y1="709.64" x2="89.20" y2="709.64" stroke="#000" stroke-width="1.2"/><text transform="translate(77.90,712.77) scale(0.94,1)" font-size="11.3" text-anchor="end" fill="#000">0.4</text><line x1="85.60" y1="693.57" x2="89.20" y2="693.57" stroke="#000" stroke-width="1.2"/><text transform="translate(77.90,696.70) scale(0.94,1)" font-size="11.3" text-anchor="end" fill="#000">0.6</text><line x1="85.60" y1="677.49" x2="89.20" y2="677.49" stroke="#000" stroke-width="1.2"/><text transform="translate(77.90,680.62) scale(0.94,1)" font-size="11.3" text-anchor="end" fill="#000">0.8</text><line x1="85.60" y1="661.41" x2="89.20" y2="661.41" stroke="#000" stroke-width="1.2"/><text transform="translate(77.90,664.54) scale(0.94,1)" font-size="11.3" text-anchor="end" fill="#000">1.0</text><line x1="85.60" y1="645.33" x2="89.20" y2="645.33" stroke="#000" stroke-width="1.2"/><text transform="translate(77.90,648.46) scale(0.94,1)" font-size="11.3" text-anchor="end" fill="#000">1.2</text><line x1="85.60" y1="629.26" x2="89.20" y2="629.26" stroke="#000" stroke-width="1.2"/><text transform="translate(77.90,632.38) scale(0.94,1)" font-size="11.3" text-anchor="end" fill="#000">1.4</text><line x1="85.60" y1="613.18" x2="89.20" y2="613.18" stroke="#000" stroke-width="1.2"/><text transform="translate(77.90,616.31) scale(0.94,1)" font-size="11.3" text-anchor="end" fill="#000">1.6</text><line x1="85.60" y1="597.10" x2="89.20" y2="597.10" stroke="#000" stroke-width="1.2"/><text transform="translate(77.90,600.23) scale(0.94,1)" font-size="11.3" text-anchor="end" fill="#000">1.8</text><rect x="99.45" y="662.06" width="16.00" height="79.74" fill="#000" stroke="#000" stroke-width="1.3"/><path d="M107.45 659.80V663.02M104.45 659.80H110.45M104.45 663.02H110.45" stroke="#707070" stroke-width="1.25" fill="none"/><text transform="translate(107.45,758.20) scale(1.06,1)" font-size="10.2" text-anchor="middle" fill="#000">Control</text><rect x="135.95" y="664.47" width="16.00" height="77.33" fill="#808080" stroke="#000" stroke-width="1.3"/><path d="M143.95 661.41V666.23M140.95 661.41H146.95M140.95 666.23H146.95" stroke="#707070" stroke-width="1.25" fill="none"/><text transform="translate(143.95,758.20) scale(1.06,1)" font-size="10.2" text-anchor="middle" fill="#000">10</text><rect x="172.35" y="630.71" width="16.00" height="111.09" fill="#404040" stroke="#000" stroke-width="1.3"/><path d="M180.35 623.63V636.49M177.35 623.63H183.35M177.35 636.49H183.35" stroke="#707070" stroke-width="1.25" fill="none"/><text transform="translate(180.35,624.50) scale(1.0,1)" font-size="13.4" text-anchor="middle" fill="#555">**</text><text transform="translate(180.35,758.20) scale(1.06,1)" font-size="10.2" text-anchor="middle" fill="#000">100</text><rect x="208.85" y="619.46" width="16.00" height="122.34" fill="#000" stroke="#000" stroke-width="1.3"/><path d="M216.85 609.16V628.45M213.85 609.16H219.85M213.85 628.45H219.85" stroke="#707070" stroke-width="1.25" fill="none"/><text transform="translate(216.85,604.80) scale(1.0,1)" font-size="13.4" text-anchor="middle" fill="#555">**</text><text transform="translate(216.85,758.20) scale(1.06,1)" font-size="10.2" text-anchor="middle" fill="#000">1000</text><path d="M89.20 596.60V741.80" stroke="#222" stroke-width="1.1" fill="none"/><path d="M88.70 741.80H234.20" stroke="#000" stroke-width="1.4" fill="none"/><text transform="translate(147.70,781.00) scale(1.06,1)" font-size="10.2" text-anchor="middle" fill="#000">SS-28 concentrations (nmol/L)</text><text transform="translate(46.00,669.00) rotate(-90)" font-size="10.9" text-anchor="middle" fill="#000">Relative fluorescence</text><text transform="translate(58.00,669.00) rotate(-90)" font-size="10.9" text-anchor="middle" fill="#000">(fold of control)</text></g>
<g><text transform="translate(256.50,601.50) scale(1.0,1)" font-size="18" text-anchor="start" font-weight="bold" fill="#000">(k)</text><text transform="translate(333.60,611.20) scale(0.97,1)" font-size="13.3" text-anchor="start" fill="#000">SSTR3a</text><line x1="311.30" y1="732.60" x2="314.90" y2="732.60" stroke="#000" stroke-width="1.2"/><text transform="translate(303.20,736.79) scale(0.91,1)" font-size="11.8" text-anchor="end" fill="#000">0.0</text><line x1="311.30" y1="710.92" x2="314.90" y2="710.92" stroke="#000" stroke-width="1.2"/><text transform="translate(303.20,715.11) scale(0.91,1)" font-size="11.8" text-anchor="end" fill="#000">1.0</text><line x1="311.30" y1="689.23" x2="314.90" y2="689.23" stroke="#000" stroke-width="1.2"/><text transform="translate(303.20,693.43) scale(0.91,1)" font-size="11.8" text-anchor="end" fill="#000">2.0</text><line x1="311.30" y1="667.55" x2="314.90" y2="667.55" stroke="#000" stroke-width="1.2"/><text transform="translate(303.20,671.74) scale(0.91,1)" font-size="11.8" text-anchor="end" fill="#000">3.0</text><line x1="311.30" y1="645.87" x2="314.90" y2="645.87" stroke="#000" stroke-width="1.2"/><text transform="translate(303.20,650.06) scale(0.91,1)" font-size="11.8" text-anchor="end" fill="#000">4.0</text><line x1="311.30" y1="624.18" x2="314.90" y2="624.18" stroke="#000" stroke-width="1.2"/><text transform="translate(303.20,628.38) scale(0.91,1)" font-size="11.8" text-anchor="end" fill="#000">5.0</text><line x1="311.30" y1="602.50" x2="314.90" y2="602.50" stroke="#000" stroke-width="1.2"/><text transform="translate(303.20,606.69) scale(0.91,1)" font-size="11.8" text-anchor="end" fill="#000">6.0</text><rect x="323.95" y="711.57" width="16.20" height="21.03" fill="#ffffff" stroke="#000" stroke-width="1.3"/><path d="M332.05 709.62V712.22M329.05 709.62H335.05M329.05 712.22H335.05" stroke="#707070" stroke-width="1.25" fill="none"/><text transform="translate(332.05,748.60) scale(1.06,1)" font-size="10.2" text-anchor="middle" fill="#000">Control</text><rect x="359.25" y="713.08" width="16.20" height="19.52" fill="#808080" stroke="#000" stroke-width="1.3"/><path d="M367.35 711.57V713.30M364.35 711.57H370.35M364.35 713.30H370.35" stroke="#707070" stroke-width="1.25" fill="none"/><text transform="translate(367.35,748.60) scale(1.06,1)" font-size="10.2" text-anchor="middle" fill="#000">10</text><rect x="394.15" y="706.80" width="16.20" height="25.80" fill="#404040" stroke="#000" stroke-width="1.3"/><path d="M402.25 704.41V707.88M399.25 704.41H405.25M399.25 707.88H405.25" stroke="#707070" stroke-width="1.25" fill="none"/><text transform="translate(402.25,748.60) scale(1.06,1)" font-size="10.2" text-anchor="middle" fill="#000">100</text><rect x="428.35" y="624.40" width="16.20" height="108.20" fill="#000" stroke="#000" stroke-width="1.3"/><path d="M436.45 615.73V631.77M433.45 615.73H439.45M433.45 631.77H439.45" stroke="#707070" stroke-width="1.25" fill="none"/><text transform="translate(436.45,610.16) scale(1.0,1)" font-size="11.4" text-anchor="middle" fill="#555">**</text><text transform="translate(436.45,748.60) scale(1.06,1)" font-size="10.2" text-anchor="middle" fill="#000">1000</text><path d="M314.90 601.90V732.60H453.50" stroke="#000" stroke-width="1.4" fill="none"/><text transform="translate(366.40,775.60) scale(1.06,1)" font-size="10.2" text-anchor="middle" fill="#000">SS-28 concentrations (nmol/L)</text><text transform="translate(271.80,668.00) rotate(-90)" font-size="10.9" text-anchor="middle" fill="#000">Relative fluorescence</text><text transform="translate(284.00,668.00) rotate(-90)" font-size="10.9" text-anchor="middle" fill="#000">(fold of control)</text></g>
<g><text transform="translate(482.20,605.60) scale(1.0,1)" font-size="18" text-anchor="start" font-weight="bold" fill="#000">(l)</text><text transform="translate(565.80,608.70) scale(0.97,1)" font-size="13.3" text-anchor="start" fill="#000">SSTR3b</text><line x1="540.40" y1="738.00" x2="544.00" y2="738.00" stroke="#000" stroke-width="1.2"/><text transform="translate(532.20,741.63) scale(0.94,1)" font-size="11.3" text-anchor="end" fill="#000">0.0</text><line x1="540.40" y1="710.12" x2="544.00" y2="710.12" stroke="#000" stroke-width="1.2"/><text transform="translate(532.20,713.75) scale(0.94,1)" font-size="11.3" text-anchor="end" fill="#000">0.5</text><line x1="540.40" y1="682.24" x2="544.00" y2="682.24" stroke="#000" stroke-width="1.2"/><text transform="translate(532.20,685.87) scale(0.94,1)" font-size="11.3" text-anchor="end" fill="#000">1.0</text><line x1="540.40" y1="654.36" x2="544.00" y2="654.36" stroke="#000" stroke-width="1.2"/><text transform="translate(532.20,657.99) scale(0.94,1)" font-size="11.3" text-anchor="end" fill="#000">1.5</text><line x1="540.40" y1="626.48" x2="544.00" y2="626.48" stroke="#000" stroke-width="1.2"/><text transform="translate(532.20,630.11) scale(0.94,1)" font-size="11.3" text-anchor="end" fill="#000">2.0</text><line x1="540.40" y1="598.60" x2="544.00" y2="598.60" stroke="#000" stroke-width="1.2"/><text transform="translate(532.20,602.23) scale(0.94,1)" font-size="11.3" text-anchor="end" fill="#000">2.5</text><rect x="553.65" y="682.89" width="15.40" height="55.11" fill="#ffffff" stroke="#000" stroke-width="1.3"/><path d="M561.35 679.45V685.03M558.35 679.45H564.35M558.35 685.03H564.35" stroke="#707070" stroke-width="1.25" fill="none"/><text transform="translate(561.35,754.80) scale(1.06,1)" font-size="10.2" text-anchor="middle" fill="#000">Control</text><rect x="588.25" y="657.80" width="15.40" height="80.20" fill="#808080" stroke="#000" stroke-width="1.3"/><path d="M595.95 649.90V664.40M592.95 649.90H598.95M592.95 664.40H598.95" stroke="#707070" stroke-width="1.25" fill="none"/><text transform="translate(595.95,645.96) scale(1.0,1)" font-size="11.4" text-anchor="middle" fill="#555">*</text><text transform="translate(595.95,754.80) scale(1.06,1)" font-size="10.2" text-anchor="middle" fill="#000">10</text><rect x="622.85" y="658.36" width="15.40" height="79.64" fill="#404040" stroke="#000" stroke-width="1.3"/><path d="M630.55 650.46V664.95M627.55 650.46H633.55M627.55 664.95H633.55" stroke="#707070" stroke-width="1.25" fill="none"/><text transform="translate(630.55,647.66) scale(1.0,1)" font-size="11.4" text-anchor="middle" fill="#555">*</text><text transform="translate(630.55,754.80) scale(1.06,1)" font-size="10.2" text-anchor="middle" fill="#000">100</text><rect x="657.75" y="633.26" width="15.40" height="104.74" fill="#000" stroke="#000" stroke-width="1.3"/><path d="M665.45 629.27V635.96M662.45 629.27H668.45M662.45 635.96H668.45" stroke="#707070" stroke-width="1.25" fill="none"/><text transform="translate(665.45,624.76) scale(1.0,1)" font-size="11.4" text-anchor="middle" fill="#555">***</text><text transform="translate(665.45,754.80) scale(1.06,1)" font-size="10.2" text-anchor="middle" fill="#000">1000</text><path d="M544.00 598.00V738.00H682.50" stroke="#000" stroke-width="1.4" fill="none"/><text transform="translate(602.80,777.30) scale(1.06,1)" font-size="10.2" text-anchor="middle" fill="#000">SS-28 concentrations (nmol/L)</text><text transform="translate(499.80,668.00) rotate(-90)" font-size="10.9" text-anchor="middle" fill="#000">Relative fluorescence</text><text transform="translate(511.50,668.00) rotate(-90)" font-size="10.9" text-anchor="middle" fill="#000">(fold of control)</text></g>
<g><text transform="translate(40.90,806.30) scale(1.0,1)" font-size="18" text-anchor="start" font-weight="bold" fill="#000">(m)</text><text transform="translate(131.60,812.80) scale(0.97,1)" font-size="13.3" text-anchor="start" fill="#000">SSTR5a</text><line x1="100.50" y1="928.80" x2="104.10" y2="928.80" stroke="#000" stroke-width="1.2"/><text transform="translate(92.30,932.43) scale(0.94,1)" font-size="11.3" text-anchor="end" fill="#000">0.0</text><line x1="100.50" y1="908.43" x2="104.10" y2="908.43" stroke="#000" stroke-width="1.2"/><text transform="translate(92.30,912.06) scale(0.94,1)" font-size="11.3" text-anchor="end" fill="#000">1.0</text><line x1="100.50" y1="888.07" x2="104.10" y2="888.07" stroke="#000" stroke-width="1.2"/><text transform="translate(92.30,891.70) scale(0.94,1)" font-size="11.3" text-anchor="end" fill="#000">2.0</text><line x1="100.50" y1="867.70" x2="104.10" y2="867.70" stroke="#000" stroke-width="1.2"/><text transform="translate(92.30,871.33) scale(0.94,1)" font-size="11.3" text-anchor="end" fill="#000">3.0</text><line x1="100.50" y1="847.33" x2="104.10" y2="847.33" stroke="#000" stroke-width="1.2"/><text transform="translate(92.30,850.96) scale(0.94,1)" font-size="11.3" text-anchor="end" fill="#000">4.0</text><line x1="100.50" y1="826.97" x2="104.10" y2="826.97" stroke="#000" stroke-width="1.2"/><text transform="translate(92.30,830.60) scale(0.94,1)" font-size="11.3" text-anchor="end" fill="#000">5.0</text><line x1="100.50" y1="806.60" x2="104.10" y2="806.60" stroke="#000" stroke-width="1.2"/><text transform="translate(92.30,810.23) scale(0.94,1)" font-size="11.3" text-anchor="end" fill="#000">6.0</text><rect x="114.85" y="909.08" width="16.30" height="19.72" fill="#ffffff" stroke="#000" stroke-width="1.3"/><path d="M123.00 907.62V909.25M120.00 907.62H126.00M120.00 909.25H126.00" stroke="#707070" stroke-width="1.25" fill="none"/><text transform="translate(123.00,944.60) scale(1.06,1)" font-size="10.2" text-anchor="middle" fill="#000">Control</text><rect x="152.05" y="905.01" width="16.30" height="23.79" fill="#808080" stroke="#000" stroke-width="1.3"/><path d="M160.20 902.93V905.79M157.20 902.93H163.20M157.20 905.79H163.20" stroke="#707070" stroke-width="1.25" fill="none"/><text transform="translate(160.20,944.60) scale(1.06,1)" font-size="10.2" text-anchor="middle" fill="#000">10</text><rect x="189.25" y="888.31" width="16.30" height="40.49" fill="#404040" stroke="#000" stroke-width="1.3"/><path d="M197.40 884.81V890.51M194.40 884.81H200.40M194.40 890.51H200.40" stroke="#707070" stroke-width="1.25" fill="none"/><text transform="translate(197.40,879.06) scale(1.0,1)" font-size="11.4" text-anchor="middle" fill="#555">**</text><text transform="translate(197.40,944.60) scale(1.06,1)" font-size="10.2" text-anchor="middle" fill="#000">100</text><rect x="226.75" y="822.93" width="16.30" height="105.87" fill="#000" stroke="#000" stroke-width="1.3"/><path d="M234.90 814.95V829.61M231.90 814.95H237.90M231.90 829.61H237.90" stroke="#707070" stroke-width="1.25" fill="none"/><text transform="translate(234.90,812.76) scale(1.0,1)" font-size="11.4" text-anchor="middle" fill="#555">***</text><text transform="translate(234.90,944.60) scale(1.06,1)" font-size="10.2" text-anchor="middle" fill="#000">1000</text><path d="M104.10 806.00V928.80H252.40" stroke="#000" stroke-width="1.4" fill="none"/><text transform="translate(161.50,968.10) scale(1.06,1)" font-size="10.2" text-anchor="middle" fill="#000">SS-28 concentrations (nmol/L)</text><text transform="translate(60.60,868.00) rotate(-90)" font-size="10.9" text-anchor="middle" fill="#000">Relative fluorescence</text><text transform="translate(72.30,868.00) rotate(-90)" font-size="10.9" text-anchor="middle" fill="#000">(fold of control)</text></g>
<g><text transform="translate(260.00,793.80) scale(1.0,1)" font-size="18" text-anchor="start" font-weight="bold" fill="#000">(n)</text><text transform="translate(341.20,802.50) scale(0.97,1)" font-size="13.3" text-anchor="start" fill="#000">SSTR5b</text><line x1="312.80" y1="939.50" x2="316.40" y2="939.50" stroke="#000" stroke-width="1.2"/><text transform="translate(304.80,943.13) scale(0.94,1)" font-size="11.3" text-anchor="end" fill="#3a3a3a">0.0</text><line x1="312.80" y1="917.48" x2="316.40" y2="917.48" stroke="#000" stroke-width="1.2"/><text transform="translate(304.80,921.11) scale(0.94,1)" font-size="11.3" text-anchor="end" fill="#3a3a3a">2.0</text><line x1="312.80" y1="895.47" x2="316.40" y2="895.47" stroke="#000" stroke-width="1.2"/><text transform="translate(304.80,899.10) scale(0.94,1)" font-size="11.3" text-anchor="end" fill="#3a3a3a">4.0</text><line x1="312.80" y1="873.45" x2="316.40" y2="873.45" stroke="#000" stroke-width="1.2"/><text transform="translate(304.80,877.08) scale(0.94,1)" font-size="11.3" text-anchor="end" fill="#3a3a3a">6.0</text><line x1="312.80" y1="851.43" x2="316.40" y2="851.43" stroke="#000" stroke-width="1.2"/><text transform="translate(304.80,855.06) scale(0.94,1)" font-size="11.3" text-anchor="end" fill="#3a3a3a">8.0</text><line x1="312.80" y1="829.42" x2="316.40" y2="829.42" stroke="#000" stroke-width="1.2"/><text transform="translate(304.80,833.05) scale(0.94,1)" font-size="11.3" text-anchor="end" fill="#3a3a3a">10.0</text><line x1="312.80" y1="807.40" x2="316.40" y2="807.40" stroke="#000" stroke-width="1.2"/><text transform="translate(304.80,811.03) scale(0.94,1)" font-size="11.3" text-anchor="end" fill="#3a3a3a">12.0</text><rect x="326.10" y="928.99" width="16.00" height="10.51" fill="#ffffff" stroke="#000" stroke-width="1.0"/><text transform="translate(334.10,955.40) scale(1.06,1)" font-size="10.2" text-anchor="middle" fill="#5a5a5a">Control</text><rect x="362.10" y="911.16" width="16.00" height="28.34" fill="#808080" stroke="#000" stroke-width="1.0"/><path d="M370.10 910.33V910.99M367.10 910.33H373.10M367.10 910.99H373.10" stroke="#707070" stroke-width="1.25" fill="none"/><text transform="translate(370.10,903.27) scale(1.0,1)" font-size="14.2" text-anchor="middle" fill="#555">***</text><text transform="translate(370.10,955.40) scale(1.06,1)" font-size="10.2" text-anchor="middle" fill="#5a5a5a">10</text><rect x="398.10" y="896.74" width="16.00" height="42.76" fill="#404040" stroke="#000" stroke-width="1.0"/><path d="M406.10 895.14V897.34M403.10 895.14H409.10M403.10 897.34H409.10" stroke="#707070" stroke-width="1.25" fill="none"/><text transform="translate(406.10,888.87) scale(1.0,1)" font-size="14.2" text-anchor="middle" fill="#555">***</text><text transform="translate(406.10,955.40) scale(1.06,1)" font-size="10.2" text-anchor="middle" fill="#5a5a5a">100</text><rect x="433.60" y="826.39" width="16.00" height="113.11" fill="#000" stroke="#000" stroke-width="1.0"/><path d="M441.60 824.79V826.99M438.60 824.79H444.60M438.60 826.99H444.60" stroke="#707070" stroke-width="1.25" fill="none"/><text transform="translate(441.60,818.67) scale(1.0,1)" font-size="14.2" text-anchor="middle" fill="#555">***</text><text transform="translate(441.60,955.40) scale(1.06,1)" font-size="10.2" text-anchor="middle" fill="#5a5a5a">1000</text><path d="M316.40 806.90V939.50" stroke="#444" stroke-width="1.0" fill="none"/><path d="M315.90 939.50H460.00" stroke="#000" stroke-width="1.4" fill="none"/><text transform="translate(376.00,966.40) scale(1.06,1)" font-size="10.2" text-anchor="middle" fill="#5a5a5a">SS-28 concentrations (nmol/L)</text><text transform="translate(267.30,872.70) rotate(-90)" font-size="10.9" text-anchor="middle" fill="#5a5a5a">Relative fluorescence</text><text transform="translate(279.40,872.70) rotate(-90)" font-size="10.9" text-anchor="middle" fill="#5a5a5a">(fold of control)</text></g>
</svg>
</body></html>
